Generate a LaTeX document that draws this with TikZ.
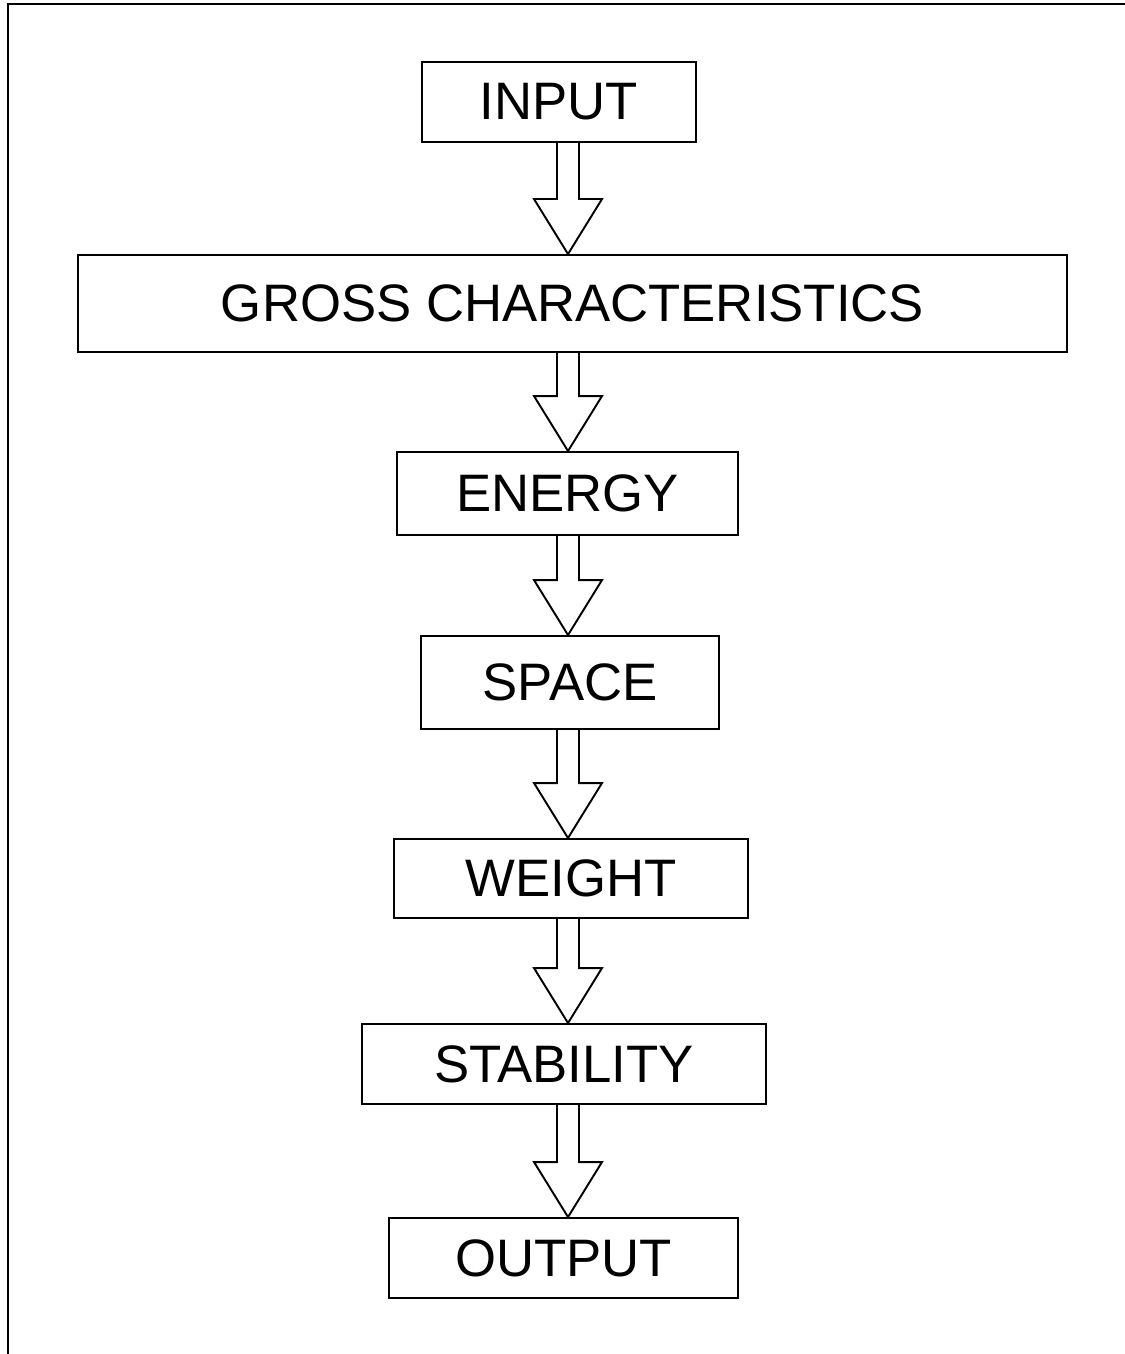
\documentclass[tikz,border=0pt]{standalone}
\usepackage{fontspec}
\setmainfont{Liberation Sans}
\usetikzlibrary{calc}

\begin{document}
\begin{tikzpicture}
  [stage/.style={draw,line width=1.1pt,inner sep=0pt,
     font=\fontsize{30}{35}\selectfont},
   hollow/.style={draw,line width=1.1pt,line join=miter}]
\useasboundingbox (0,0) rectangle (22.5,-27.08);
% frame, only top and left edge
\draw [line width=1.6pt] (0.16,-27.08) -- (0.16,-0.08) -- (22.5,-0.08);
\path
    (11.18,-2.04) node [stage,minimum width=5.48cm,minimum height=1.6cm] (input) {INPUT}
    (11.45,-6.07) node [stage,minimum width=19.78cm,minimum height=1.94cm] (gross) {GROSS CHARACTERISTICS}
    (11.35,-9.87) node [stage,minimum width=6.82cm,minimum height=1.66cm] (energy) {ENERGY}
    (11.40,-13.65) node [stage,minimum width=5.96cm,minimum height=1.86cm] (space) {SPACE}
    (11.42,-17.57) node [stage,minimum width=7.08cm,minimum height=1.58cm] (weight) {WEIGHT}
    (11.28,-21.28) node [stage,minimum width=8.08cm,minimum height=1.6cm] (stability) {STABILITY}
    (11.27,-25.16) node [stage,minimum width=6.98cm,minimum height=1.6cm] (output) {OUTPUT};
\coordinate (axis) at (11.36,0);
% open block arrows between the stages
\foreach \a/\b in {input/gross,gross/energy,energy/space,space/weight,
                   weight/stability,stability/output}
  \draw [hollow]
      ($(\a.south -| axis)+(-0.22,0)$) -- ($(\b.north -| axis)+(-0.22,1.1)$)
      -- ++(-0.46,0) -- (\b.north -| axis) -- ++(0.68,1.1) -- ++(-0.46,0)
      -- ($(\a.south -| axis)+(0.22,0)$);
\end{tikzpicture}
\end{document}
